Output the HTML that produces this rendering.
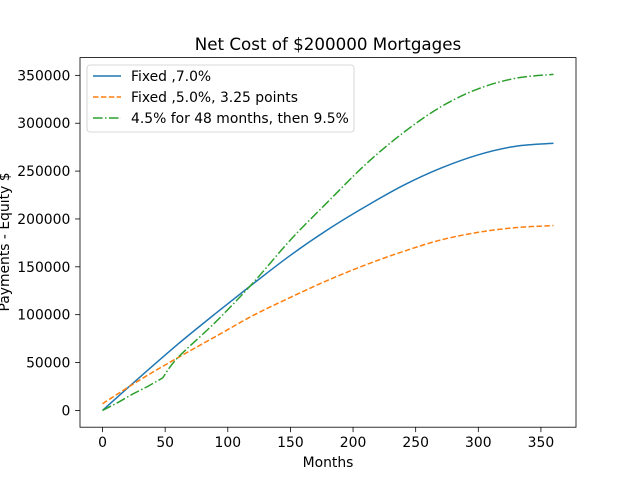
<!DOCTYPE html>
<html><head><meta charset="utf-8"><style>
body{margin:0;background:#fff;font-family:"Liberation Sans","DejaVu Sans",sans-serif}
svg text{font-family:"DejaVu Sans","Liberation Sans",sans-serif;fill:#000}
</style></head><body>
<svg id="chart" width="640" height="480" viewBox="0 0 640 480" xmlns="http://www.w3.org/2000/svg">
<rect width="640" height="480" fill="#fff"/>
<text x="328" y="50" font-size="16.7" text-anchor="middle">Net Cost of $200000 Mortgages</text>
<g id="axes"></g>
<g id="series"></g>
<rect x="80" y="57.6" width="496" height="369.6" fill="none" stroke="#000" stroke-width="0.8"/>
<text x="328" y="467" font-size="13.9" text-anchor="middle">Months</text>
<text x="0" y="0" font-size="13.9" text-anchor="middle" transform="translate(9,242) rotate(-90)">Payments - Equity $</text>
<g>
<rect x="87" y="65" width="267" height="67" rx="3" fill="#fff" fill-opacity="0.8" stroke="#ccc" stroke-width="0.8"/>
<g><line x1="93" y1="76" x2="121" y2="76" stroke="#1f77b4" stroke-width="1.5"/><text x="131" y="81" font-size="13.9">Fixed ,7.0%</text></g>
<g><line x1="93" y1="97" x2="121" y2="97" stroke="#ff7f0e" stroke-width="1.5" stroke-dasharray="5.5,2.4"/><text x="131" y="102" font-size="13.9">Fixed ,5.0%, 3.25 points</text></g>
<g><line x1="93" y1="118" x2="121" y2="118" stroke="#2ca02c" stroke-width="1.5" stroke-dasharray="9.6,2.4,1.5,2.4"/><text x="131" y="123" font-size="13.9">4.5% for 48 months, then 9.5%</text></g>
</g>
</svg>
<script>
const months=[0,30,60,90,120,150,180,210,240,270,300,330,360];
const fixed7=[0,35000,69000,101000,132000,162000,189000,213000,235000,253000,267000,276000,279000];
const fixed5=[7000,32000,55000,77000,99000,118000,136000,152000,166000,178000,186000,191000,193000];
const armMonths=[0,12,24,36,48,60,90,120,150,180,210,240,270,300,330,360];
const arm=[0,8000,17000,25000,34000,55000,92000,133000,178000,218000,257000,290000,317000,336000,347000,351000];
const xTicks=[0,50,100,150,200,250,300,350];
const yTicks=[0,50000,100000,150000,200000,250000,300000,350000];
const NS="http://www.w3.org/2000/svg";
const X0=80,X1=576,Y0=427.2,Y1=57.6,xmin=-18,xmax=378,ymin=-17550,ymax=368550;
function xs(v){return X0+(v-xmin)/(xmax-xmin)*(X1-X0);}
function ys(v){return Y0-(v-ymin)/(ymax-ymin)*(Y0-Y1);}
const axes=document.getElementById('axes'),series=document.getElementById('series');
function mk(t,a,p){const e=document.createElementNS(NS,t);for(const k in a)e.setAttribute(k,a[k]);p.appendChild(e);return e;}
xTicks.forEach(v=>{const x=xs(v);
 const l=mk('line',{x1:x,x2:x,y1:Y0,y2:Y0+4.9,stroke:'#000','stroke-width':0.8},axes);
 
 
 const t=mk('text',{x:x,y:Y0+20,'font-size':13.9,'text-anchor':'middle'},axes);t.textContent=v;
 
 });
yTicks.forEach(v=>{const y=ys(v);
 const l=mk('line',{x1:X0-4.9,x2:X0,y1:y,y2:y,stroke:'#000','stroke-width':0.8},axes);
 
 
 const t=mk('text',{x:X0-9.7,y:y+5,'font-size':13.9,'text-anchor':'end'},axes);t.textContent=v;
 
 });
function smooth(P){
 let d='M'+P[0][0].toFixed(1)+','+P[0][1].toFixed(1);
 for(let i=0;i<P.length-1;i++){
  const p0=P[Math.max(i-1,0)],p1=P[i],p2=P[i+1],p3=P[Math.min(i+2,P.length-1)];
  const c1=[p1[0]+(p2[0]-p0[0])/6,p1[1]+(p2[1]-p0[1])/6];
  const c2=[p2[0]-(p3[0]-p1[0])/6,p2[1]-(p3[1]-p1[1])/6];
  d+=' C'+c1.map(v=>v.toFixed(1))+' '+c2.map(v=>v.toFixed(1))+' '+p2.map(v=>v.toFixed(1));
 }
 return d;}
function line(xsArr,vals,color,dash,name,kinkAt){
 const P=xsArr.map((m,i)=>[xs(m),ys(vals[i])]);
 let d;
 if(kinkAt!=null){const k=xsArr.indexOf(kinkAt);
  const a=P.slice(0,k+1),b=P.slice(k);
  d='M'+a.map(p=>p[0].toFixed(1)+','+p[1].toFixed(1)).join(' L')+' '+smooth(b).replace(/^M/,'L');}
 else d=smooth(P);
 const p=mk('path',{d:d,fill:'none',stroke:color,'stroke-width':1.5,'stroke-linejoin':'round'},series);
 if(dash)p.setAttribute('stroke-dasharray',dash);
 
 }
line(months,fixed7,'#1f77b4',null,'line-fixed-7');
line(months,fixed5,'#ff7f0e','5.5,2.4','line-fixed-5');
line(armMonths,arm,'#2ca02c','9.6,2.4,1.5,2.4','line-arm',48);
</script>
</body></html>
